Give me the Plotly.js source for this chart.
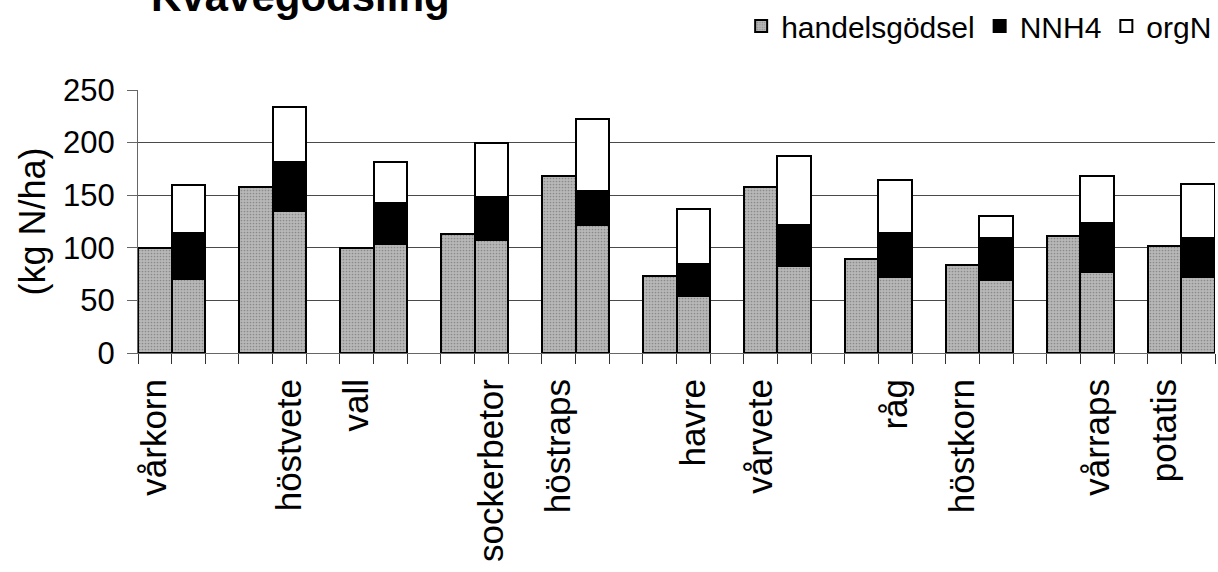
<!DOCTYPE html>
<html>
<head>
<meta charset="utf-8">
<script src="https://cdn.plot.ly/plotly-3.0.1.min.js"></script>
<style>html,body{margin:0;padding:0;background:#fff;}#chart{width:1218px;height:572px;}</style>
</head>
<body>
<div id="chart"></div>
<script>
// ---- data (kg N/ha) ----
const crops = ['vårkorn','höstvete','vall','sockerbetor','höstraps','havre','vårvete','råg','höstkorn','vårraps','potatis'];
const handelsgodselOnly = [100, 158, 100, 113, 168, 73, 158, 89, 84, 111, 102];
const handelsgodsel = [70, 135, 104, 107, 122, 54, 83, 72, 69, 77, 72];
const nnh4 = [44, 47, 39, 41, 32, 31, 39, 42, 40, 47, 37];
const orgN = [46, 52, 39, 52, 68, 52, 65, 50, 21, 44, 52];
const yTicks = [0, 50, 100, 150, 200, 250];

// slot layout: each crop takes two bar slots followed by one empty slot
const nSlots = crops.length * 3 - 1;
const pos1 = crops.map((c, i) => i * 3);
const pos2 = crops.map((c, i) => i * 3 + 1);
const slotName = [];
for (let s = 0; s < nSlots; s++) {
  const g = Math.floor(s / 3);
  slotName.push(s % 3 === 2 ? '' : crops[g]);
}
const labelVals = [], labelText = [];
for (let s = 0; s < nSlots; s += 2) { labelVals.push(s); labelText.push(slotName[s]); }
const boundaries = [];
for (let s = 0; s <= nSlots; s++) boundaries.push(s - 0.5);

const FONT = 'Liberation Sans, Arial, sans-serif';
const greyPattern = {shape: '.', bgcolor: '#b8b8b8', fgcolor: '#8a8a8a', size: 3, solidity: 0.25};
const edge = {color: '#000', width: 2};

const traces = [
  {type: 'bar', name: 'handelsgödsel', x: pos1, y: handelsgodselOnly, width: 1,
   marker: {color: '#b3b3b3', pattern: greyPattern, line: edge}, legendgroup: 'h'},
  {type: 'bar', name: 'handelsgödsel', x: pos2, y: handelsgodsel, width: 1, showlegend: false,
   marker: {color: '#b3b3b3', pattern: greyPattern, line: edge}, legendgroup: 'h'},
  {type: 'bar', name: 'NNH4', x: pos2, y: nnh4, width: 1,
   marker: {color: '#000000', line: edge}},
  {type: 'bar', name: 'orgN', x: pos2, y: orgN, width: 1,
   marker: {color: '#ffffff', line: edge}}
];

const layout = {
  width: 1218, height: 572,
  margin: {l: 138, r: 3, t: 90, b: 219, autoexpand: false},
  paper_bgcolor: '#ffffff', plot_bgcolor: '#ffffff',
  font: {family: FONT, color: '#000', size: 30},
  barmode: 'stack', bargap: 0,
  showlegend: true,
  legend: {orientation: 'h', xref: 'paper', x: 1.002, xanchor: 'right',
           yref: 'container', y: 1, yanchor: 'top',
           font: {family: FONT, size: 30, color: '#000'}, bgcolor: 'rgba(0,0,0,0)',
           traceorder: 'normal', itemwidth: 30},
  xaxis: {
    range: [-0.5, nSlots - 0.5], tickmode: 'array', tickvals: labelVals, ticktext: labelText,
    tickangle: -90, ticks: '', ticklabelstandoff: 11, automargin: false,
    tickfont: {family: FONT, size: 35, color: '#000'},
    showline: true, linecolor: '#666', linewidth: 1, showgrid: false, zeroline: false,
    minor: {tickmode: 'array', tickvals: boundaries, ticks: 'outside', ticklen: 10,
            tickcolor: '#333', tickwidth: 1, showgrid: false}
  },
  yaxis: {
    range: [0, 250], tickmode: 'array', tickvals: yTicks, ticks: 'outside', ticklen: 10,
    tickcolor: '#666', showline: true, linecolor: '#666', linewidth: 1, automargin: false,
    showgrid: true, gridcolor: '#4a4a4a', gridwidth: 1, zeroline: false,
    tickfont: {family: FONT, size: 31, color: '#000'}, ticklabelstandoff: 6,
    title: {text: '(kg N/ha)', font: {family: FONT, size: 36, color: '#000'}, standoff: 6}
  },
  annotations: [{
    text: '<b>Kvävegödsling</b>', xref: 'paper', yref: 'paper', x: 0.151, y: 1.355,
    xanchor: 'center', yanchor: 'middle', showarrow: false,
    font: {family: FONT, size: 42, color: '#000'}
  }]
};

Plotly.newPlot('chart', traces, layout, {displayModeBar: false, staticPlot: true});
</script>
</body>
</html>
